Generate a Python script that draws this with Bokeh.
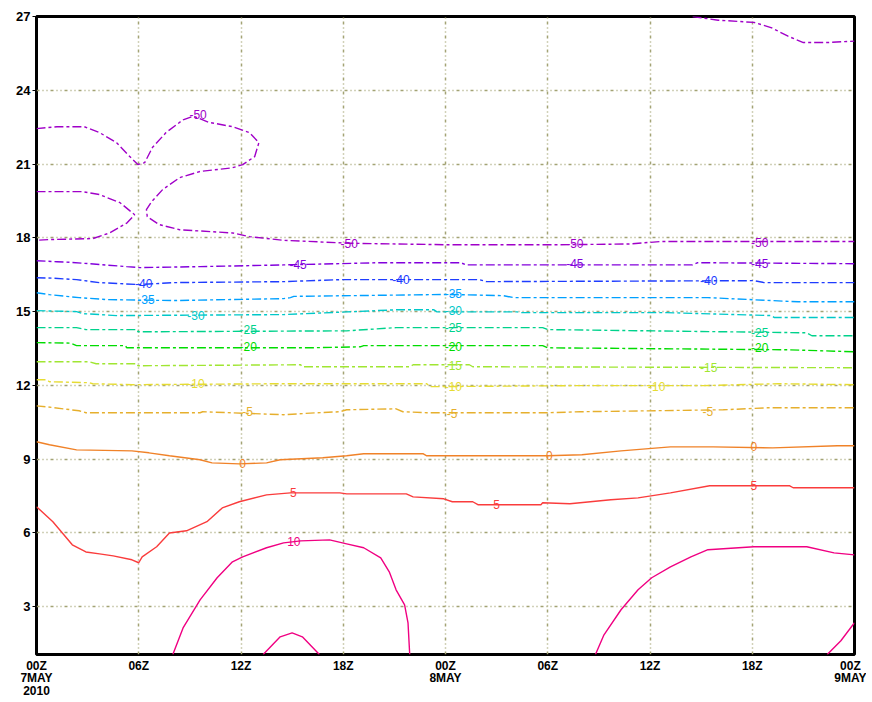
from bokeh.plotting import figure
from bokeh.models import FixedTicker, Range1d, ColumnDataSource
from bokeh.core.properties import value
from bokeh.embed import file_html
from bokeh.resources import INLINE

# ---- axes ----
x_ticks = [0, 6, 12, 18, 24, 30, 36, 42, 48]
x_tick_labels = ["00Z\n7MAY\n2010", "06Z", "12Z", "18Z", "00Z\n8MAY", "06Z", "12Z", "18Z", "00Z\n9MAY"]
y_ticks = [3, 6, 9, 12, 15, 18, 21, 24, 27]

# ---- contour levels and colours ----
levels = [10, 5, 0, -5, -10, -15, -20, -25, -30, -35, -40, -45, -50]
level_colors = ["#f00082", "#fa3c3c", "#f08228", "#e6af2d", "#e6dc32", "#a0e632", "#00dc00",
                "#00d28c", "#00c8c8", "#00a0ff", "#1e3cff", "#8200dc", "#a000c8"]

# ---- contour lines (hours since 00Z 7MAY, height) ----
m50a_x = [0, 1.2, 2.8, 3.7, 4.7, 5.35, 5.95, 6.35, 6.8, 7.6, 8.6, 9.2, 10.1, 11.5, 12.5, 13.05, 12.8,
          12.1, 11.5, 9.6, 8.4, 7.4, 6.75, 6.45, 6.5, 7.2, 8.4, 11.5, 12.5, 14.5, 18.4, 24.1, 30.5,
          34.8, 36.6, 42.5, 48]
m50a_y = [22.44, 22.52, 22.52, 22.28, 21.87, 21.39, 20.98, 21.06, 21.67, 22.28, 22.8, 22.95, 22.7,
          22.52, 22.28, 21.87, 21.3, 20.98, 20.85, 20.7, 20.45, 19.96, 19.47, 19.15, 18.86, 18.54,
          18.33, 18.2, 18.05, 17.9, 17.78, 17.72, 17.72, 17.75, 17.85, 17.85, 17.85]
m50b_x = [0, 0.76, 2.7, 3.7, 4.9, 5.76, 5.3, 4.3, 3.3, 0.76, 0]
m50b_y = [19.88, 19.88, 19.88, 19.76, 19.43, 18.94, 18.6, 18.2, 17.97, 17.93, 17.9]
m50c_x = [38.5, 40, 42.1, 43.1, 44.1, 45, 46.4, 48]
m50c_y = [27.0, 26.85, 26.76, 26.55, 26.2, 25.94, 25.94, 26.0]
m45_x = [0, 1.2, 2.1, 3.1, 5.3, 6.05, 9.6, 14.5, 20.2, 24.9, 25.2, 38.5, 38.8, 48]
m45_y = [17.07, 17.03, 17.0, 16.95, 16.83, 16.79, 16.83, 16.9, 16.99, 16.99, 16.9, 16.9, 16.99, 16.95]
m40_x = [0, 1, 2.35, 3.7, 6.05, 8, 14.5, 17.8, 26.0, 26.4, 42.1, 42.7, 48]
m40_y = [16.38, 16.36, 16.3, 16.18, 16.1, 16.18, 16.22, 16.3, 16.3, 16.22, 16.26, 16.18, 16.18]
m35_x = [0, 0.76, 2.5, 4.1, 8, 14.5, 14.9, 15.1, 24.1, 27.4, 28.0, 39.4, 44.7, 48]
m35_y = [15.77, 15.69, 15.57, 15.49, 15.45, 15.53, 15.57, 15.62, 15.7, 15.65, 15.57, 15.57, 15.4, 15.4]
m30_x = [0, 2.35, 2.7, 4.7, 14.5, 18.2, 21.3, 23.3, 23.5, 28.2, 28.4, 37, 43.1, 43.3, 48]
m30_y = [15.04, 15.0, 14.92, 14.84, 14.88, 14.99, 15.08, 15.08, 14.99, 14.99, 14.96, 14.96, 14.84, 14.76, 14.76]
m25_x = [0, 2.35, 2.9, 5.9, 5.95, 18.2, 21.1, 29.7, 30.0, 45.2, 45.5, 48]
m25_y = [14.35, 14.35, 14.27, 14.27, 14.18, 14.22, 14.35, 14.35, 14.27, 14.14, 14.02, 14.02]
m20_x = [0, 2, 2.35, 5.2, 5.3, 16, 19, 19.2, 29.7, 30, 44, 48]
m20_y = [13.74, 13.72, 13.62, 13.62, 13.53, 13.53, 13.57, 13.62, 13.62, 13.53, 13.45, 13.37]
m15_x = [0, 3.1, 3.5, 5.9, 5.95, 15.5, 15.6, 21.9, 22.1, 25.4, 25.6, 48]
m15_y = [12.96, 12.96, 12.88, 12.88, 12.8, 12.84, 12.76, 12.76, 12.84, 12.84, 12.76, 12.72]
m10_x = [0, 0.6, 0.76, 3.1, 3.3, 5.6, 14.5, 22.9, 23.1, 31.3, 39.1, 43.5, 48]
m10_y = [12.23, 12.23, 12.15, 12.11, 12.07, 12.03, 12.07, 12.07, 11.95, 11.99, 11.99, 12.07, 12.03]
m5_x = [0, 0.6, 2.5, 2.9, 9.6, 9.75, 14.5, 16.5, 17.8, 18.2, 21.1, 21.5, 22.9, 30, 31.9, 40.3, 42.9, 48]
m5_y = [11.17, 11.13, 10.97, 10.89, 10.89, 10.93, 10.81, 10.89, 10.93, 11.01, 11.05, 10.93, 10.89,
        10.89, 10.93, 11.01, 11.09, 11.09]
z0_x = [0, 0.76, 2.35, 5.6, 6.6, 7.8, 9.6, 10.3, 11.9, 13.5, 14.3, 16.8, 18.2, 19.2, 22.7, 22.9, 30,
        32, 34.3, 37.2, 39.7, 43.2, 47, 48]
z0_y = [9.71, 9.59, 9.38, 9.34, 9.26, 9.14, 8.98, 8.85, 8.81, 8.85, 8.98, 9.06, 9.14, 9.22, 9.22,
        9.14, 9.14, 9.18, 9.34, 9.5, 9.5, 9.46, 9.55, 9.55]
p5_x = [0, 0.96, 2.1, 2.9, 3.7, 4.5, 5.6, 6.0, 6.2, 7.05, 7.8, 8.8, 10, 10.9, 11.9, 13.5, 14.9, 17.8,
        18.2, 21.7, 22.1, 23.9, 24.4, 25.6, 25.9, 29.6, 29.7, 31.3, 33.7, 35.3, 37.2, 39.5, 44.2, 44.4, 48]
p5_y = [7.07, 6.46, 5.52, 5.23, 5.15, 5.07, 4.91, 4.79, 5.03, 5.44, 6.0, 6.09, 6.46, 7.02, 7.27, 7.55,
        7.63, 7.63, 7.59, 7.59, 7.47, 7.39, 7.27, 7.27, 7.15, 7.15, 7.23, 7.19, 7.35, 7.43, 7.63, 7.92,
        7.92, 7.84, 7.84]
p10a_x = [8.0, 8.6, 9.6, 10.6, 11.5, 12.1, 13.5, 14.5, 15.5, 17.2, 18.2, 19.2, 20.2, 20.7, 21.1, 21.6, 21.8, 21.9]
p10a_y = [1.06, 2.14, 3.28, 4.18, 4.83, 5.03, 5.4, 5.6, 5.68, 5.72, 5.56, 5.4, 4.99, 4.42, 3.69, 3.08, 2.35, 1.06]
p10b_x = [13.3, 14.3, 15.0, 15.6, 16.6]
p10b_y = [1.06, 1.78, 1.94, 1.78, 1.06]
p10c_x = [32.8, 33.3, 34.3, 35.3, 36.1, 37.2, 38.4, 39.4, 42.1, 45.2, 46.8, 48]
p10c_y = [1.06, 1.86, 2.88, 3.69, 4.18, 4.62, 5.03, 5.32, 5.44, 5.44, 5.19, 5.11]
p10d_x = [46.4, 47.2, 48]
p10d_y = [1.06, 1.62, 2.35]

lines = [
    (m50a_x, m50a_y, -50), (m50b_x, m50b_y, -50), (m50c_x, m50c_y, -50),
    (m45_x, m45_y, -45), (m40_x, m40_y, -40), (m35_x, m35_y, -35), (m30_x, m30_y, -30),
    (m25_x, m25_y, -25), (m20_x, m20_y, -20), (m15_x, m15_y, -15), (m10_x, m10_y, -10),
    (m5_x, m5_y, -5), (z0_x, z0_y, 0), (p5_x, p5_y, 5),
    (p10a_x, p10a_y, 10), (p10b_x, p10b_y, 10), (p10c_x, p10c_y, 10), (p10d_x, p10d_y, 10),
]

# ---- contour labels ----
neg_label_x = [9.99, 18.86, 32.1, 42.95, 15.86, 32.1, 42.95, 6.8, 21.9, 39.95, 6.93, 24.97,
               9.87, 24.97, 12.93, 24.97, 42.95, 12.93, 24.97, 42.95, 24.97, 39.95, 9.87, 24.97,
               36.9, 12.7, 24.7, 39.7]
neg_label_y = [23.01, 17.76, 17.76, 17.8, 16.91, 16.95, 16.95, 16.14, 16.3, 16.26, 15.49, 15.73,
               14.84, 15.04, 14.27, 14.35, 14.14, 13.57, 13.57, 13.53, 12.8, 12.72, 12.07, 11.95,
               11.95, 10.93, 10.85, 10.93]
neg_label_level = [-50, -50, -50, -50, -45, -45, -45, -40, -40, -40, -35, -35, -30, -30, -25, -25,
                   -25, -20, -20, -20, -15, -15, -10, -10, -10, -5, -5, -5]
pos_label_x = [12.1, 30.1, 42.1, 15.07, 27.0, 42.1, 15.1]
pos_label_y = [8.81, 9.14, 9.5, 7.63, 7.15, 7.92, 5.64]
pos_label_level = [0, 0, 0, 5, 5, 5, 10]

color_of = dict(zip(levels, level_colors))

p = figure(width=866, height=700, x_range=Range1d(0, 48), y_range=Range1d(1.06, 27),
           output_backend="svg", toolbar_location=None,
           min_border_left=36, min_border_right=12, min_border_top=16, min_border_bottom=46)

p.background_fill_color = "white"
p.border_fill_color = "white"
p.outline_line_color = "black"
p.outline_line_width = 3
p.outline_line_alpha = 1.0

p.xaxis.ticker = FixedTicker(ticks=x_ticks)
p.xaxis.major_label_overrides = {t: lab for t, lab in zip(x_ticks, x_tick_labels)}
p.yaxis.ticker = FixedTicker(ticks=y_ticks)
for ax in (p.xaxis[0], p.yaxis[0]):
    ax.axis_line_color = None
    ax.minor_tick_line_color = None
    ax.minor_tick_out = 0
    ax.minor_tick_in = 0
    ax.major_label_text_font = "Liberation Sans"
    ax.major_label_text_font_style = "bold"
    ax.major_label_text_color = "black"
p.xaxis.major_label_text_font_size = "12px"
p.xaxis.major_label_text_line_height = 0.9
p.yaxis.major_label_text_font_size = "13px"
p.xaxis.major_tick_line_color = None
p.xaxis.major_tick_out = 0
p.xaxis.major_tick_in = 0
p.xaxis.major_label_standoff = 4
p.yaxis.major_tick_out = 4
p.yaxis.major_tick_in = 0
p.yaxis.major_tick_line_color = "black"
p.yaxis.major_label_standoff = 2

p.xgrid.ticker = FixedTicker(ticks=x_ticks)
p.ygrid.ticker = FixedTicker(ticks=y_ticks)
for g in (p.xgrid[0], p.ygrid[0]):
    g.grid_line_color = "#a3a374"
    g.grid_line_dash = "3 3 1 3 1 3"
    g.grid_line_width = 1.5

for xs, ys, lev in lines:
    dash = "solid" if lev >= 0 else "9 3 3 3"
    p.line(xs, ys, line_color=color_of[lev], line_width=1.4, line_dash=dash)

neg_src = ColumnDataSource(dict(
    x=neg_label_x, y=neg_label_y,
    text=[str(v) for v in neg_label_level],
    color=[color_of[v] for v in neg_label_level]))
pos_src = ColumnDataSource(dict(
    x=pos_label_x, y=pos_label_y,
    text=[str(v) for v in pos_label_level],
    color=[color_of[v] for v in pos_label_level]))
p.text(x="x", y="y", text="text", source=neg_src, text_color="color",
       text_font=value("Liberation Sans"), text_font_size="12px",
       text_align="right", text_baseline="middle")
p.text(x="x", y="y", text="text", source=pos_src, text_color="color",
       text_font=value("Liberation Sans"), text_font_size="12px",
       text_align="center", text_baseline="middle")

open("out.html", "w").write(file_html(p, INLINE))
